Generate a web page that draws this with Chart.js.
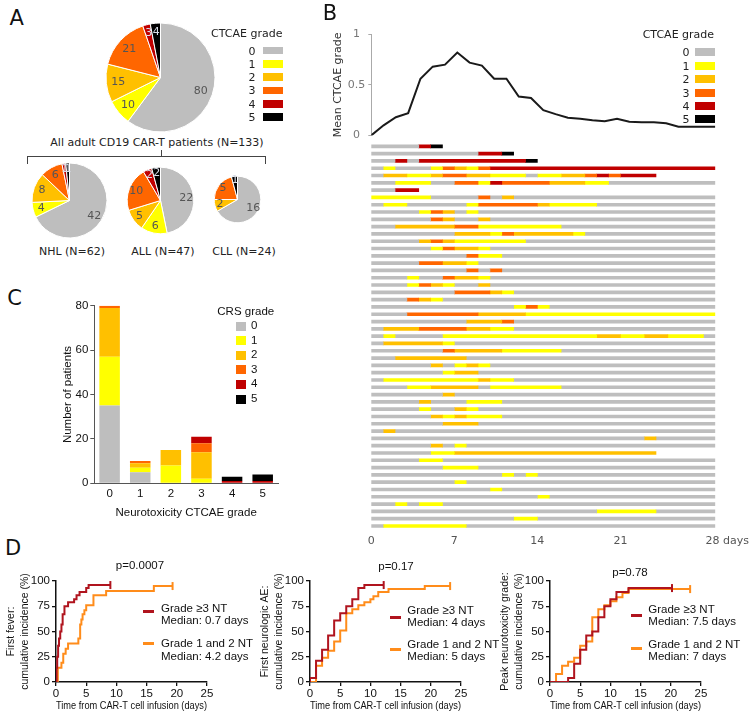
<!DOCTYPE html>
<html>
<head>
<meta charset="utf-8">
<script src="https://cdn.jsdelivr.net/npm/chart.js@4.4.1/dist/chart.umd.min.js"></script>
<style>
  html, body { margin: 0; padding: 0; background: #fff; }
  #page { position: relative; width: 754px; height: 721px; overflow: hidden; }
  canvas { position: absolute; }
  .t { position: absolute; white-space: nowrap; line-height: 1; }
  .sw { position: absolute; }
</style>
</head>
<body>
<div id="page"></div>
<script>
// grade colours, CTCAE / CRS 0..5
const gradeColors = ['#bebebe', '#ffff00', '#ffc000', '#ff6600', '#c00000', '#000000'];
const grades = ['0', '1', '2', '3', '4', '5'];

// A - patients by max neurotoxicity grade
const pieAll = [80, 10, 15, 21, 3, 4];
const pieNHL = [42, 4, 8, 6, 1, 1];
const pieALL = [22, 6, 5, 10, 2, 2];
const pieCLL = [16, 0, 2, 5, 0, 1];

// B - mean grade by day after infusion
const days = [0, 1, 2, 3, 4, 5, 6, 7, 8, 9, 10, 11, 12, 13, 14, 15, 16, 17, 18, 19, 20, 21, 22, 23, 24, 25, 26, 27, 28];
const meanGrade = [0, 0.10, 0.18, 0.22, 0.56, 0.68, 0.70, 0.82, 0.72, 0.69, 0.56, 0.56, 0.385, 0.37, 0.25,
                   0.21, 0.175, 0.165, 0.15, 0.14, 0.165, 0.135, 0.13, 0.13, 0.12, 0.085, 0.085, 0.085, 0.085];
const dayTicks = [0, 7, 14, 21, 30];
const dayTickText = ['0', '7', '14', '21', '28 days'];

// B - one row per patient, runs of [grade, number of days]
const patientRows = [
  [[0,4],[4,1],[5,1]],
  [[0,9],[4,2],[5,1]],
  [[0,2],[4,1],[0,1],[4,9],[5,1]],
  [[0,1],[1,1],[0,3],[1,1],[3,1],[2,1],[1,1],[3,1],[4,19]],
  [[0,1],[2,2],[1,2],[2,1],[3,2],[2,2],[1,3],[0,1],[1,2],[2,2],[3,1],[4,1],[3,1],[4,3]],
  [[0,2],[1,3],[0,2],[3,2],[1,1],[4,1],[3,4],[2,3],[1,2],[0,9]],
  [[0,2],[4,2]],
  [[1,5],[0,4],[3,1],[0,1],[2,1],[0,17]],
  [[0,1],[1,2],[0,5],[1,1],[3,5],[2,1],[1,4],[0,10]],
  [[0,4],[1,1],[3,1],[2,1],[0,1],[1,1],[0,20]],
  [[0,5],[3,1],[2,1],[0,2],[2,1],[0,19]],
  [[0,2],[2,5],[3,2],[1,7],[0,13]],
  [[0,7],[2,3],[1,1],[3,1],[2,5],[1,1],[0,11]],
  [[0,4],[2,1],[3,1],[2,1],[1,6],[0,16]],
  [[0,5],[1,1],[3,1],[2,2],[1,1],[0,19]],
  [[0,8],[3,1],[1,2],[0,18]],
  [[0,4],[3,2],[2,2],[1,1],[0,20]],
  [[0,8],[3,1],[0,1],[3,1],[0,18]],
  [[0,3],[1,1],[0,2],[3,1],[2,2],[1,1],[0,19]],
  [[0,3],[1,1],[3,1],[2,1],[1,1],[0,2],[2,1],[0,19]],
  [[0,7],[3,3],[2,1],[1,1],[0,17]],
  [[0,3],[3,1],[2,1],[1,1],[0,23]],
  [[0,12],[1,1],[3,1],[1,1],[0,14]],
  [[0,3],[3,6],[2,4],[1,16]],
  [[0,8],[2,3],[3,1],[0,17]],
  [[0,1],[2,3],[3,4],[2,2],[1,2],[0,17]],
  [[0,1],[1,1],[0,4],[1,13],[2,2],[1,2],[2,2],[1,3],[0,1]],
  [[0,1],[2,5],[1,1],[0,22]],
  [[0,6],[3,1],[2,4],[1,5],[0,13]],
  [[0,2],[2,6],[0,21]],
  [[0,5],[2,1],[0,1],[1,1],[2,1],[1,1],[0,19]],
  [[0,6],[1,1],[2,2],[0,20]],
  [[0,1],[1,8],[2,1],[1,2],[0,17]],
  [[0,3],[1,2],[2,4],[0,1],[1,6],[0,13]],
  [[0,6],[2,1],[0,22]],
  [[0,4],[2,1],[0,3],[1,3],[0,18]],
  [[0,4],[1,1],[0,2],[2,1],[1,1],[0,20]],
  [[0,5],[2,1],[1,1],[2,1],[1,3],[0,18]],
  [[0,6],[2,3],[0,20]],
  [[0,1],[2,1],[0,27]],
  [[0,23],[2,1],[0,5]],
  [[0,5],[2,1],[0,1],[1,1],[0,21]],
  [[0,5],[1,2],[2,17]],
  [[0,4],[1,2],[0,23]],
  [[0,6],[1,3],[0,20]],
  [[0,11],[1,1],[0,1],[1,1],[0,15]],
  [[0,7],[1,1],[0,21]],
  [[0,10],[1,1],[0,18]],
  [[0,14],[1,1],[0,14]],
  [[0,2],[1,1],[0,1],[1,2],[0,23]],
  [[0,19],[1,5],[0,5]],
  [[0,12],[1,2],[0,15]],
  [[0,1],[1,7],[0,21]]
];

// C - patients per neurotoxicity grade, split by CRS grade
const ntGrades = ['0', '1', '2', '3', '4', '5'];
const crs0 = [35, 5, 0, 0, 0, 0];
const crs1 = [22, 2, 8, 2, 0, 0];
const crs2 = [22, 2, 7, 12, 0, 0];
const crs3 = [1, 1, 0, 4, 0, 0];
const crs4 = [0, 0, 0, 3, 1, 1];
const crs5 = [0, 0, 0, 0, 2, 3];

// D - cumulative incidence (%), time in days; Hi = grade >=3 NT, Lo = grade 1-2 NT
const feverHiT = [0, 0.1, 0.2, 0.35, 0.5, 0.7, 0.9, 1.1, 1.4, 2.0, 3.0, 3.4, 3.9, 5.0, 5.4, 9.0];
const feverHiV = [0, 14, 25, 36, 43, 50, 57, 67, 75, 79, 82, 86, 89, 93, 96, 96];
const feverLoT = [0, 0.3, 0.9, 1.2, 1.6, 2.0, 3.7, 4.0, 4.2, 4.4, 4.7, 5.0, 6.2, 8.3, 16.2, 19.3];
const feverLoV = [0, 14, 19, 28, 33, 38, 43, 57, 62, 67, 71, 76, 86, 90, 95, 95];
const neuroHiT = [0, 0, 1, 2, 3, 4, 5, 6, 7, 8, 9, 12.2];
const neuroHiV = [0, 4, 21, 32, 46, 61, 68, 75, 82, 93, 96, 96];
const neuroLoT = [0, 1, 2, 3, 4, 5, 6, 7, 8, 9, 10, 10.5, 11.3, 13, 19, 23.2];
const neuroLoV = [0, 16, 24, 31, 40, 51, 68, 72, 76, 79, 82, 85, 89, 92, 95, 95];
const peakHiT = [0, 3, 4, 5, 6, 7, 8, 9, 10, 11, 13, 20.2];
const peakHiV = [0, 4, 18, 32, 46, 50, 64, 75, 82, 89, 93, 93];
const peakLoT = [0, 1, 2, 3, 4, 5, 6, 7, 8, 9, 10, 11, 12, 13, 23.2];
const peakLoV = [0, 8, 16, 20, 24, 36, 40, 64, 72, 76, 80, 84, 88, 92, 92];

const RED = '#b0141e';
const ORANGE = '#ff8c1a';
const VERD = 'DejaVu Sans';
const ARIAL = 'Liberation Sans';

Chart.defaults.animation = false;
Chart.defaults.events = [];
Chart.defaults.responsive = false;
Chart.defaults.plugins.legend.display = false;
Chart.defaults.plugins.tooltip.enabled = false;
Chart.defaults.font.family = VERD;
Chart.defaults.font.size = 11;

const page = document.getElementById('page');

function addCanvas(x, y, w, h) {
  const c = document.createElement('canvas');
  c.width = w; c.height = h;
  c.style.left = x + 'px'; c.style.top = y + 'px';
  c.style.width = w + 'px'; c.style.height = h + 'px';
  page.appendChild(c);
  return c;
}

function addText(s, x, y, o = {}) {
  const d = document.createElement('div');
  d.className = 't';
  d.textContent = s;
  d.style.left = x + 'px';
  d.style.top = y + 'px';
  d.style.fontFamily = o.family || VERD;
  d.style.fontSize = (o.size || 11) + 'px';
  d.style.color = o.color || '#222';
  const ax = o.align === 'left' ? '0' : '-50%';
  d.style.transform = 'translate(' + ax + ', -50%)';
  page.appendChild(d);
}

function addBox(x, y, w, h, color) {
  const d = document.createElement('div');
  d.className = 'sw';
  d.style.left = x + 'px'; d.style.top = y + 'px';
  d.style.width = w + 'px'; d.style.height = h + 'px';
  d.style.background = color;
  page.appendChild(d);
}

// value labels inside the pie slices
const pieLabels = {
  id: 'pieLabels',
  afterDatasetsDraw(chart) {
    const ctx = chart.ctx;
    const vals = chart.data.datasets[0].data;
    const total = vals.reduce((a, b) => a + b, 0);
    ctx.save();
    ctx.font = '11px "DejaVu Sans"';
    ctx.textAlign = 'center';
    ctx.textBaseline = 'middle';
    chart.getDatasetMeta(0).data.forEach((arc, i) => {
      if (!vals[i]) return;
      const mid = (arc.startAngle + arc.endAngle) / 2;
      const r = arc.outerRadius * (vals[i] / total < 0.05 ? 0.84 : 0.78);
      ctx.fillStyle = i >= 4 ? '#d8dce8' : '#555';
      ctx.fillText(vals[i], arc.x + Math.cos(mid) * r, arc.y + Math.sin(mid) * r);
    });
    ctx.restore();
  }
};

function makePie(values, cx, cy, r) {
  const size = Math.ceil(2 * r + 6);
  const cv = addCanvas(Math.round(cx - size / 2), Math.round(cy - size / 2), size, size);
  new Chart(cv, {
    type: 'pie',
    data: {
      labels: grades,
      datasets: [{ data: values, backgroundColor: gradeColors, borderColor: '#fff', borderWidth: 1 }]
    },
    options: { radius: r },
    plugins: [pieLabels]
  });
}

// ---------- panel A ----------
makePie(pieAll, 160.5, 77, 54.5);
makePie(pieNHL, 69, 200, 37.5);
makePie(pieALL, 160, 200.7, 33.3);
makePie(pieCLL, 237.7, 199, 23.3);

addText('A', 16.7, 17.5, { size: 21, color: '#111' });
addText('All adult CD19 CAR-T patients (N=133)', 157, 141.7);
addText('NHL (N=62)', 72, 251);
addText('ALL (N=47)', 163, 251);
addText('CLL (N=24)', 244, 251);
// bracket
addBox(27, 156, 239, 1, '#444');
addBox(27, 156, 1, 8, '#444');
addBox(265, 156, 1, 8, '#444');
addBox(160.5, 150, 1, 6, '#444');

addText('CTCAE grade', 211, 33.3, { align: 'left' });
grades.forEach((g, i) => {
  addText(g, 252, 50.5 + 13.3 * i);
  addBox(262.7, 50.5 + 13.3 * i - 3.7, 20, 7.5, gradeColors[i]);
});

// ---------- panel B ----------
addText('B', 330, 13, { size: 21, color: '#111' });

new Chart(addCanvas(330, 24, 390, 121), {
  type: 'line',
  data: {
    datasets: [{
      data: days.map((d, i) => ({ x: d, y: meanGrade[i] })),
      borderColor: '#1a1a1a', borderWidth: 2, pointRadius: 0, tension: 0
    }]
  },
  options: {
    layout: { padding: { top: 10.3, right: 4.7, bottom: 5, left: 0 } },
    scales: {
      x: { type: 'linear', min: 0, max: 28, display: false },
      y: {
        min: 0, max: 1,
        afterFit(s) { s.width = 41.3; },
        ticks: { stepSize: 0.5, color: '#777', padding: 3, crossAlign: 'center', font: { family: VERD, size: 11 },
                 callback: v => String(v) },
        grid: { drawOnChartArea: false, tickLength: 3, color: '#aaa' },
        border: { color: '#aaa' },
        title: { display: true, text: 'Mean CTCAE grade', color: '#333', font: { family: VERD, size: 11 }, padding: { top: 2, bottom: 0 } }
      }
    }
  }
});

const maxRuns = Math.max(...patientRows.map(r => r.length));
const swimSets = [];
for (let k = 0; k < maxRuns; k++) {
  swimSets.push({
    data: patientRows.map(r => (r[k] ? r[k][1] : null)),
    backgroundColor: patientRows.map(r => (r[k] ? gradeColors[r[k][0]] : 'rgba(0,0,0,0)')),
    borderWidth: 0,
    barThickness: 3
  });
}

new Chart(addCanvas(330, 132, 424, 418), {
  type: 'bar',
  data: { labels: patientRows.map((r, i) => 'pt' + (i + 1)), datasets: swimSets },
  options: {
    indexAxis: 'y',
    layout: { padding: { top: 10.65, left: 41.3, right: 38.7, bottom: 0 } },
    scales: {
      y: { stacked: true, display: false },
      x: {
        stacked: true, min: 0, max: 29,
        afterFit(s) { s.height = 20.35; },
        afterBuildTicks(s) { s.ticks = dayTicks.map(v => ({ value: v })); },
        grid: { display: false, drawTicks: false },
        border: { display: false },
        ticks: {
          autoSkip: false, maxRotation: 0, padding: 5, color: '#555',
          font: { family: VERD, size: 11 },
          callback: (v, i) => dayTickText[i]
        }
      }
    }
  }
});

addText('CTCAE grade', 642.7, 34.3, { align: 'left' });
grades.forEach((g, i) => {
  addText(g, 686, 52.3 + 13.4 * i);
  addBox(695, 52.3 + 13.4 * i - 4, 20, 8, gradeColors[i]);
});

// ---------- panel C ----------
addText('C', 14.5, 297.5, { size: 21, color: '#111' });

const crsSeries = [crs0, crs1, crs2, crs3, crs4, crs5];
new Chart(addCanvas(57, 296, 231, 224), {
  type: 'bar',
  data: {
    labels: ntGrades,
    datasets: crsSeries.map((d, i) => ({
      label: grades[i], data: d, backgroundColor: gradeColors[i], borderWidth: 0,
      barPercentage: 0.67, categoryPercentage: 1
    }))
  },
  options: {
    layout: { padding: { top: 9.7, right: 10, bottom: 0, left: 0 } },
    scales: {
      x: {
        stacked: true,
        afterFit(s) { s.height = 36.7; },
        grid: { display: false, drawTicks: false },
        border: { color: '#555' },
        ticks: { color: '#111', padding: 4, font: { family: ARIAL, size: 11.5 } },
        title: { display: true, text: 'Neurotoxicity CTCAE grade', color: '#111', font: { family: ARIAL, size: 11.5 }, padding: { top: 3, bottom: 0 } }
      },
      y: {
        stacked: true, min: 0, max: 80,
        afterFit(s) { s.width = 37.3; },
        ticks: { stepSize: 20, color: '#111', padding: 2, font: { family: ARIAL, size: 11.5 } },
        grid: { drawOnChartArea: false, tickLength: 4, color: '#555' },
        border: { color: '#555' },
        title: { display: true, text: 'Number of patients', color: '#111', font: { family: ARIAL, size: 11.5 }, padding: { top: 4, bottom: 0 } }
      }
    }
  }
});

addText('CRS grade', 217.3, 312.3, { align: 'left', family: ARIAL, size: 11.5, color: '#111' });
grades.forEach((g, i) => {
  addBox(235.7, 326 + 14.6 * i - 4.5, 10, 9, gradeColors[i]);
  addText(g, 251, 326 + 14.6 * i, { align: 'left', family: ARIAL, size: 11.5, color: '#111' });
});

// ---------- panel D ----------
addText('D', 13, 548, { size: 21, color: '#111' });

function kmSet(t, v, color) {
  return {
    data: t.map((x, i) => ({ x: x, y: v[i] })),
    borderColor: color, borderWidth: 2, stepped: 'before', fill: false,
    pointStyle: 'line', pointRotation: 90,
    pointRadius: t.map((x, i) => (i === t.length - 1 ? 4 : 0)),
    pointBorderColor: color, pointBorderWidth: 2
  };
}

function makeKM(areaLeft, yTitle, hiT, hiV, loT, loV) {
  new Chart(addCanvas(areaLeft - 55, 571, 218, 141), {
    type: 'line',
    data: { datasets: [kmSet(hiT, hiV, RED), kmSet(loT, loV, ORANGE)] },
    options: {
      layout: { padding: { top: 10, right: 12, bottom: 0, left: 0 } },
      scales: {
        x: {
          type: 'linear', min: 0, max: 25,
          afterFit(s) { s.height = 30; },
          ticks: { stepSize: 5, color: '#111', padding: 1, font: { family: ARIAL, size: 11.5 } },
          grid: { drawOnChartArea: false, tickLength: 4, color: '#111', lineWidth: 1.3 },
          border: { color: '#111', width: 1.5 },
          title: { display: true, text: 'Time from CAR-T cell infusion (days)', color: '#111', font: { family: ARIAL, size: 11.5, lineHeight: 1.1 }, padding: { top: 0, bottom: 0 } }
        },
        y: {
          min: 0, max: 100,
          afterFit(s) { s.width = 55; },
          ticks: { stepSize: 25, color: '#111', padding: 2, font: { family: ARIAL, size: 11.5 } },
          grid: { drawOnChartArea: false, tickLength: 4, color: '#111', lineWidth: 1.3 },
          border: { color: '#111', width: 1.5 },
          title: { display: true, text: yTitle, color: '#111', font: { family: ARIAL, size: 10.5, lineHeight: 1.25 }, padding: { top: 4, bottom: 0 } }
        }
      }
    }
  });
}

makeKM(56, ['First fever:', 'cumulative incidence (%)'], feverHiT, feverHiV, feverLoT, feverLoV);
makeKM(310, ['First neurologic AE:', 'cumulative incidence (%)'], neuroHiT, neuroHiV, neuroLoT, neuroLoV);
makeKM(550, ['Peak neurotoxicity grade:', 'cumulative incidence (%)'], peakHiT, peakHiV, peakLoT, peakLoV);

const dOpts = { family: ARIAL, size: 11.5, color: '#111' };
addText('p=0.0007', 140, 566, dOpts);
addText('p=0.17', 396, 566.7, dOpts);
addText('p=0.78', 630, 573.3, dOpts);

function kmLegend(lineX, textX, redY, redT1, redT2, orY, orT1, orT2, hiMed, loMed) {
  const l = Object.assign({ align: 'left' }, dOpts);
  addBox(lineX, redY - 1.5, 11, 3, RED);
  addText('Grade \u22653 NT', textX, redT1, l);
  addText('Median: ' + hiMed, textX, redT2, l);
  addBox(lineX, orY - 1.5, 11, 3, ORANGE);
  addText('Grade 1 and 2 NT', textX, orT1, l);
  addText('Median: ' + loMed, textX, orT2, l);
}
kmLegend(142.7, 161, 611.7, 609.3, 620.7, 643.3, 644, 656.7, '0.7 days', '4.2 days');
kmLegend(390, 407.3, 617.3, 611, 623.3, 649.3, 645, 657.3, '4 days', '5 days');
kmLegend(631, 648.3, 615, 610, 621.7, 648.3, 645, 656.7, '7.5 days', '7 days');
</script>
</body>
</html>
